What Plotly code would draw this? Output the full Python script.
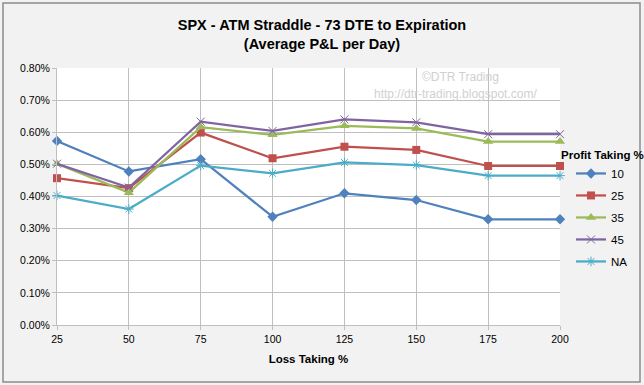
import plotly.graph_objects as go

loss_taking = [25, 50, 75, 100, 125, 150, 175, 200]
pt_10 = [0.00573, 0.00478, 0.00516, 0.00337, 0.00410, 0.00389, 0.00329, 0.00329]
pt_25 = [0.00457, 0.00426, 0.00599, 0.00519, 0.00555, 0.00545, 0.00495, 0.00495]
pt_35 = [0.00502, 0.00412, 0.00616, 0.00592, 0.00620, 0.00612, 0.00571, 0.00571]
pt_45 = [0.00502, 0.00428, 0.00633, 0.00604, 0.00640, 0.00631, 0.00594, 0.00594]
pt_na = [0.00403, 0.00361, 0.00496, 0.00472, 0.00506, 0.00498, 0.00465, 0.00465]
series_names = ["10", "25", "35", "45", "NA"]
y_ticks = [0, 0.001, 0.002, 0.003, 0.004, 0.005, 0.006, 0.007, 0.008]

W, H = 644, 385
ML, MR, MT, MB = 57, 84, 68, 60
pw = W - ML - MR
ph = H - MT - MB

def px_x(p):
    return (p - ML) / pw

def px_y(p):
    return (H - MB - p) / ph

styles = [
    dict(color="#4F81BD", symbol="diamond", size=8, lw=0),
    dict(color="#C0504D", symbol="square", size=8, lw=0),
    dict(color="#9BBB59", symbol="triangle-up", size=9, lw=0),
    dict(color="#8064A2", symbol="x-thin", size=8, lw=1),
    dict(color="#4BACC6", symbol="asterisk", size=8, lw=1),
]
data = [pt_10, pt_25, pt_35, pt_45, pt_na]

fig = go.Figure()
for name, vals, st in zip(series_names, data, styles):
    fig.add_trace(go.Scatter(
        x=loss_taking, y=vals, name=name, mode="lines+markers", legendgroup=name,
        line=dict(color=st["color"], width=2.25),
        marker=dict(symbol=st["symbol"], size=st["size"], color=st["color"],
                    line=dict(color=st["color"], width=st["lw"])),
        cliponaxis=False,
    ))

font_main = "Liberation Sans Narrow, Liberation Sans, Arial"
fig.update_layout(
    width=W, height=H,
    margin=dict(l=ML, r=MR, t=MT, b=MB, autoexpand=False),
    paper_bgcolor="#F2F2F2", plot_bgcolor="#FFFFFF",
    font=dict(family="Liberation Sans, Arial", size=10.5, color="#000000"),
    title=dict(text="<b>SPX - ATM Straddle - 73 DTE to Expiration<br>(Average P&L per Day)</b>",
               x=0.5, xanchor="center", y=1 - 30 / H, yanchor="top",
               font=dict(family=font_main, size=14.5, color="#000000")),
    xaxis=dict(range=[25, 200], tickvals=loss_taking, ticktext=[str(v) for v in loss_taking],
               showgrid=True, gridcolor="#BFBFBF", gridwidth=1,
               showline=True, linecolor="#BFBFBF", ticks="outside", ticklen=4, tickcolor="#BFBFBF",
               zeroline=False,
               title=dict(text="<b>Loss Taking %</b>", standoff=11,
                          font=dict(family=font_main, size=11.5))),
    yaxis=dict(range=[0, 0.008], tickvals=y_ticks, tickformat=".2%",
               showgrid=True, gridcolor="#BFBFBF", gridwidth=1,
               showline=True, linecolor="#BFBFBF", ticks="outside", ticklen=4, tickcolor="#BFBFBF",
               zeroline=False),
    legend=dict(x=px_x(559), xanchor="left", y=px_y(144), yanchor="top",
                bgcolor="rgba(0,0,0,0)", font=dict(size=11.5, family=font_main),
                title=dict(text="<b>Profit Taking %</b>", font=dict(size=11.5, family=font_main)),
                indentation=12, tracegroupgap=3),
    showlegend=True,
)

fig.add_annotation(text="©DTR Trading", xref="paper", yref="paper",
                   x=px_x(420), y=px_y(77), xanchor="left", yanchor="middle",
                   showarrow=False, font=dict(family="Liberation Sans", size=12, color="#D0D0D0"))
fig.add_annotation(text="http://dtr-trading.blogspot.com/", xref="paper", yref="paper",
                   x=px_x(372), y=px_y(94), xanchor="left", yanchor="middle",
                   showarrow=False, font=dict(family="Liberation Sans", size=12, color="#D0D0D0"))

fig.add_shape(type="rect", xref="paper", yref="paper",
              x0=px_x(3), x1=px_x(640), y0=px_y(382), y1=px_y(3),
              line=dict(color="#8C8C8C", width=1.5), fillcolor="rgba(0,0,0,0)", layer="below")

fig.write_html("out.html", config={"displayModeBar": False},
               post_script="document.body.style.margin='0px';")
